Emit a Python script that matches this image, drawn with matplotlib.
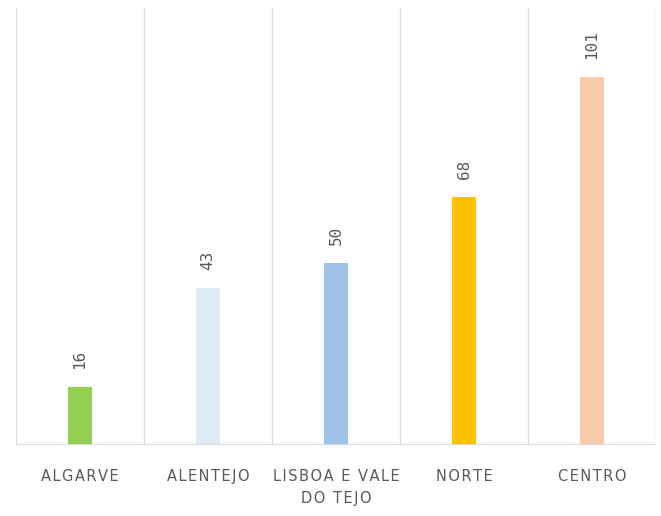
import numpy as np
import matplotlib.pyplot as plt

regions = ["ALGARVE", "ALENTEJO", "LISBOA E VALE\nDO TEJO", "NORTE", "CENTRO"]
counts = [16, 43, 50, 68, 101]
colors = ['#92D050', '#DDEBF7', '#9DC3E6', '#FFC000', '#F8CBAD']

def spaced(s, sep="\u200a"):
    # letter spacing like the original
    return "\n".join(sep.join(line) for line in s.split("\n"))

fig = plt.figure(figsize=(6.61, 5.16), dpi=100)
ax = fig.add_axes([16/661, 71/516, 640/661, 437/516])

x = np.arange(len(regions))
ax.bar(x, counts, width=0.19, color=colors, zorder=3)
for xi, v in zip(x, counts):
    ax.annotate(str(v), (xi, v), xytext=(0, 13), textcoords='offset points',
                rotation=90, ha='center', va='bottom', color='#595959',
                fontsize=11.5, family='DejaVu Sans Mono')

ax.set_xlim(-0.5, len(regions) - 0.5)
ax.set_ylim(0, 120)
for b in np.arange(-0.5, len(regions), 1.0):
    ax.axvline(b, color='#D9D9D9', lw=1, zorder=1)
ax.axhline(0, color='#D9D9D9', lw=2, zorder=4)

for s in ax.spines.values():
    s.set_visible(False)
ax.set_yticks([])
ax.set_xticks(x)
ax.set_xticklabels([spaced(r) for r in regions], color='#595959', fontsize=10.5,
                   linespacing=1.6, va='top')
ax.tick_params(axis='x', length=0, pad=17)

plt.savefig("out.png", dpi=100)
